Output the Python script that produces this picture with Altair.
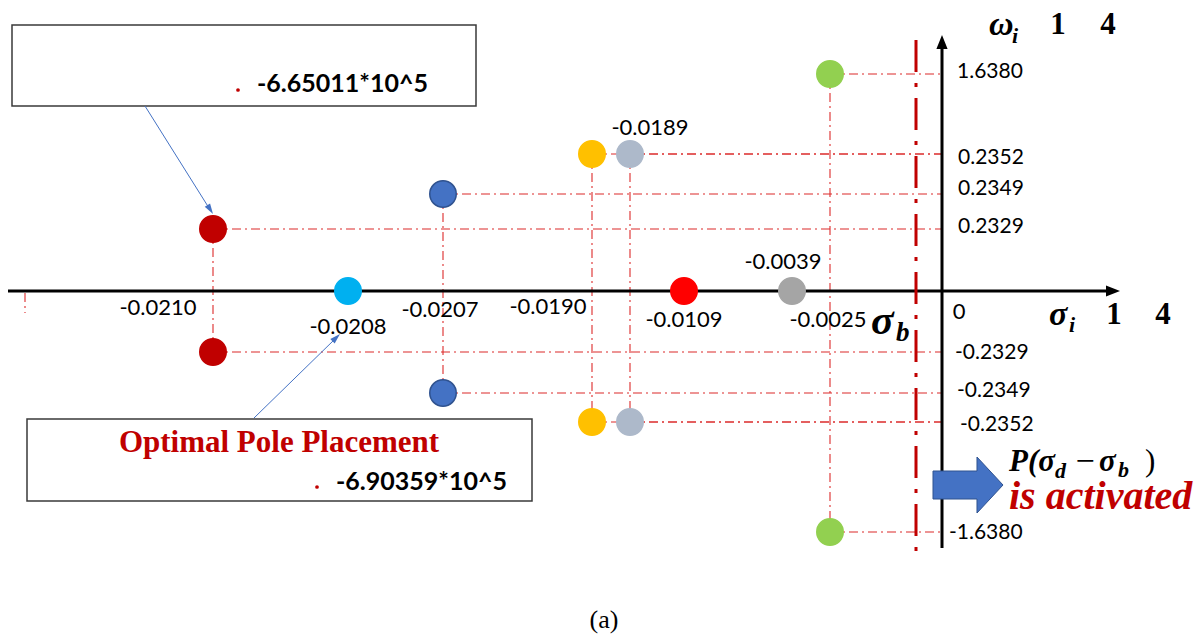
import altair as alt
import pandas as pd

# ---- closed-loop poles: real part, imaginary part, marker colours ----------
pole_re = [-0.0210, -0.0208, -0.0207, -0.0190, -0.0189, -0.0109, -0.0039, -0.0025]
pole_im = [0.2329, 0.0, 0.2349, 0.2352, 0.2352, 0.0, 0.0, 1.6380]
pole_fill = ["#C00000", "#00B0F0", "#4472C4", "#FFC000", "#ADB9CA", "#FF0000", "#A5A5A5", "#92D050"]
pole_edge = ["#C00000", "#00B0F0", "#2F528F", "#FFC000", "#ADB9CA", "#FF0000", "#A5A5A5", "#92D050"]

# ---- tick texts on the two axes --------------------------------------------
sigma_tick_value = [-0.0210, -0.0208, -0.0207, -0.0190, -0.0189, -0.0109, -0.0039, -0.0025, 0.0]
sigma_tick_text = ["-0.0210", "-0.0208", "-0.0207", "-0.0190", "-0.0189", "-0.0109", "-0.0039", "-0.0025", "0"]
sigma_tick_im = [0.0, 0.0, 0.0, 0.0, 0.2352, 0.0, 0.0, 0.0, 0.0]
omega_tick_value = [1.6380, 0.2352, 0.2349, 0.2329, -0.2329, -0.2349, -0.2352, -1.6380]
omega_tick_text = ["1.6380", "0.2352", "0.2349", "0.2329", "-0.2329", "-0.2349", "-0.2352", "-1.6380"]

# ---- cost values shown in the two call-out boxes ---------------------------
cost_before = "-6.65011*10^5"
cost_after = "-6.90359*10^5"

# ---- layout: the s-plane is drawn with broken (piecewise) axes -------------
sigma_screen = [213, 348, 443, 592, 630, 684, 792, 830, 942]
omega_breaks = [-1.6380, -0.2352, -0.2349, -0.2329, 0.0, 0.2329, 0.2349, 0.2352, 1.6380]
omega_screen = [532, 422, 393, 352, 291, 229, 194, 154, 74]
sigma_label_shift = [(-55, 17), (0, 36), (-3, 19), (-44, 16), (20, -26), (0, 29), (-9, -29), (-2, 29), (17, 21)]
omega_label_shift = [(15, -2), (16, 4), (16, -5), (16, -2), (13, 1), (15, -2), (18, 3), (7, 1)]

W, H = 1203, 635
xs = alt.Scale(domain=sigma_tick_value, range=sigma_screen, nice=False, zero=False)
ys = alt.Scale(domain=omega_breaks, range=omega_screen, nice=False, zero=False)


def X(field=None, datum=None):
    if datum is not None:
        return alt.XDatum(datum, type="quantitative", scale=xs, axis=None)
    return alt.X(field, type="quantitative", scale=xs, axis=None)


def Y(field=None, datum=None):
    if datum is not None:
        return alt.YDatum(datum, type="quantitative", scale=ys, axis=None)
    return alt.Y(field, type="quantitative", scale=ys, axis=None)


poles = pd.DataFrame({"re": pole_re, "im": pole_im, "fill": pole_fill, "edge": pole_edge})
complex_poles = poles[poles["im"] != 0].copy()
conjugates = complex_poles.assign(im=-complex_poles["im"])
all_poles = pd.concat([poles, conjugates], ignore_index=True)
complex_both = pd.concat([complex_poles, conjugates], ignore_index=True)
pairs = complex_poles.assign(neg=-complex_poles["im"])
one = pd.DataFrame({"k": [0]})

GUIDE = "#DC2A2A"
DASH_THIN = [9, 4, 2, 4]

layers = []

# projection guides from each complex pole to the imaginary axis
layers.append(
    alt.Chart(complex_both)
    .mark_rule(color=GUIDE, strokeWidth=1.1, strokeDash=DASH_THIN)
    .encode(x=X("re"), x2=alt.X2Datum(0), y=Y("im"))
)
# vertical guides joining conjugate pairs
layers.append(
    alt.Chart(pairs)
    .mark_rule(color=GUIDE, strokeWidth=1.1, strokeDash=DASH_THIN)
    .encode(x=X("re"), y=Y("im"), y2=alt.Y2(field="neg"))
)
# small guide stub at the far left of the real axis
layers.append(
    alt.Chart(one)
    .mark_rule(color=GUIDE, strokeWidth=1.1, strokeDash=DASH_THIN)
    .encode(x=alt.value(25), y=alt.value(293), y2=alt.value(313))
)

# real axis and imaginary axis with arrow heads
layers.append(
    alt.Chart(one).mark_rule(color="black", strokeWidth=3)
    .encode(x=alt.value(8), x2=alt.value(1108), y=Y(datum=0))
)
layers.append(
    alt.Chart(one).mark_rule(color="black", strokeWidth=3)
    .encode(x=X(datum=0), y=alt.value(548), y2=alt.value(46))
)
layers.append(
    alt.Chart(one).mark_point(shape="M0,0 L-2,-0.8 L-2,0.8 Z", filled=True, color="black", opacity=1, size=196)
    .encode(x=alt.value(1120), y=Y(datum=0))
)
layers.append(
    alt.Chart(one).mark_point(shape="M0,0 L0.8,2 L-0.8,2 Z", filled=True, color="black", opacity=1, size=196)
    .encode(x=X(datum=0), y=alt.value(35))
)

# stability boundary sigma_b
layers.append(
    alt.Chart(one).mark_rule(color="#C00000", strokeWidth=3, strokeDash=[32, 11, 4, 11])
    .encode(x=alt.value(916), y=alt.value(40), y2=alt.value(552))
)

# pole markers
layers.append(
    alt.Chart(all_poles)
    .mark_circle(size=700, opacity=1, strokeWidth=1.5)
    .encode(
        x=X("re"),
        y=Y("im"),
        color=alt.Color("fill:N", scale=None),
        stroke=alt.Stroke("edge:N", scale=None),
    )
)

# tick texts
for val, im, txt, (dx, dy) in zip(sigma_tick_value, sigma_tick_im, sigma_tick_text, sigma_label_shift):
    layers.append(
        alt.Chart(one)
        .mark_text(font="Lato", fontSize=22, color="black", align="center", baseline="middle", dx=dx, dy=dy)
        .encode(x=X(datum=val), y=Y(datum=im), text=alt.value(txt))
    )
for val, txt, (dx, dy) in zip(omega_tick_value, omega_tick_text, omega_label_shift):
    layers.append(
        alt.Chart(one)
        .mark_text(font="Lato", fontSize=21, color="black", align="left", baseline="middle", dx=dx, dy=dy)
        .encode(x=X(datum=0), y=Y(datum=val), text=alt.value(txt))
    )

# call-out boxes
for x1, x2, y1, y2 in [(12, 476, 25, 106), (27, 532, 419, 501)]:
    layers.append(
        alt.Chart(one).mark_rect(fill="white", stroke="#3A3A3A", strokeWidth=1.5)
        .encode(x=alt.value(x1), x2=alt.value(x2), y=alt.value(y1), y2=alt.value(y2))
    )

# call-out pointers
TIP = "M0,0 L0.6,2 L-0.6,2 Z"
for (x1, y1, x2, y2) in [(145, 106, 209, 208), (254, 418, 335, 339)]:
    layers.append(
        alt.Chart(one).mark_rule(color="#4472C4", strokeWidth=1)
        .encode(x=alt.value(x1), y=alt.value(y1), x2=alt.value(x2), y2=alt.value(y2))
    )
for (tx, ty, ang) in [(213, 214, 147.8), (340, 334, 45.7)]:
    layers.append(
        alt.Chart(one).mark_point(shape=TIP, filled=True, color="#4472C4", opacity=1, size=110, angle=ang)
        .encode(x=alt.value(tx), y=alt.value(ty))
    )

# block arrow next to the activation note
layers.append(
    alt.Chart(one).mark_point(
        shape="M-1,-0.4 L0.257,-0.4 L0.257,-0.8 L1,0 L0.257,0.8 L0.257,0.4 L-1,0.4 Z",
        filled=True, fill="#4472C4", stroke="#2F528F", strokeWidth=1, opacity=1, size=4900,
    ).encode(x=alt.value(968), y=alt.value(485))
)

# red bullets inside the boxes
for (bx, by) in [(238, 90), (317, 487)]:
    layers.append(
        alt.Chart(one).mark_circle(color="#C00000", opacity=1, size=14)
        .encode(x=alt.value(bx), y=alt.value(by))
    )

SERIF = "Liberation Serif"
texts = [
    # text, x, y, size, weight, style, colour, font, align
    (cost_before, 257, 84, 25, "bold", "normal", "black", "Lato", "left"),
    ("Optimal Pole Placement", 279, 443, 31, "bold", "normal", "#C00000", SERIF, "center"),
    (cost_after, 336, 482, 25, "bold", "normal", "black", "Lato", "left"),
    ("ω", 989, 25, 34, "bold", "italic", "black", SERIF, "left"),
    ("i", 1012, 36, 22, "bold", "italic", "black", SERIF, "left"),
    ("1", 1058, 25, 31, "bold", "normal", "black", SERIF, "center"),
    ("4", 1108, 25, 31, "bold", "normal", "black", SERIF, "center"),
    ("σ", 1049, 315, 34, "bold", "italic", "black", SERIF, "left"),
    ("i", 1069, 325, 22, "bold", "italic", "black", SERIF, "left"),
    ("1", 1114, 315, 31, "bold", "normal", "black", SERIF, "center"),
    ("4", 1163, 315, 31, "bold", "normal", "black", SERIF, "center"),
    ("σ", 871, 321, 42, "bold", "italic", "black", SERIF, "left"),
    ("b", 896, 333, 27, "bold", "italic", "black", SERIF, "left"),
    ("P(σ", 1009, 462, 31, "bold", "italic", "black", SERIF, "left"),
    ("d", 1055, 471, 22, "bold", "italic", "black", SERIF, "left"),
    ("−", 1085, 462, 34, "normal", "normal", "black", SERIF, "center"),
    ("σ", 1099, 462, 31, "bold", "italic", "black", SERIF, "left"),
    ("b", 1118, 470, 22, "bold", "italic", "black", SERIF, "left"),
    (")", 1145, 462, 31, "normal", "normal", "black", SERIF, "left"),
    ("is activated", 1009, 497, 40, "bold", "italic", "#C00000", SERIF, "left"),
    ("(a)", 604, 620, 26, "normal", "normal", "black", SERIF, "center"),
]
for (txt, tx, ty, size, weight, style, col, font, align) in texts:
    layers.append(
        alt.Chart(one)
        .mark_text(font=font, fontSize=size, fontWeight=weight, fontStyle=style, color=col,
                   align=align, baseline="middle")
        .encode(x=alt.value(tx), y=alt.value(ty), text=alt.value(txt))
    )

chart = (
    alt.layer(*layers)
    .properties(width=W, height=H, autosize=alt.AutoSizeParams(type="none"), padding=0, background="white")
    .configure_view(stroke=None)
)

chart.save("out.html", embed_options={"renderer": "svg", "actions": False})
